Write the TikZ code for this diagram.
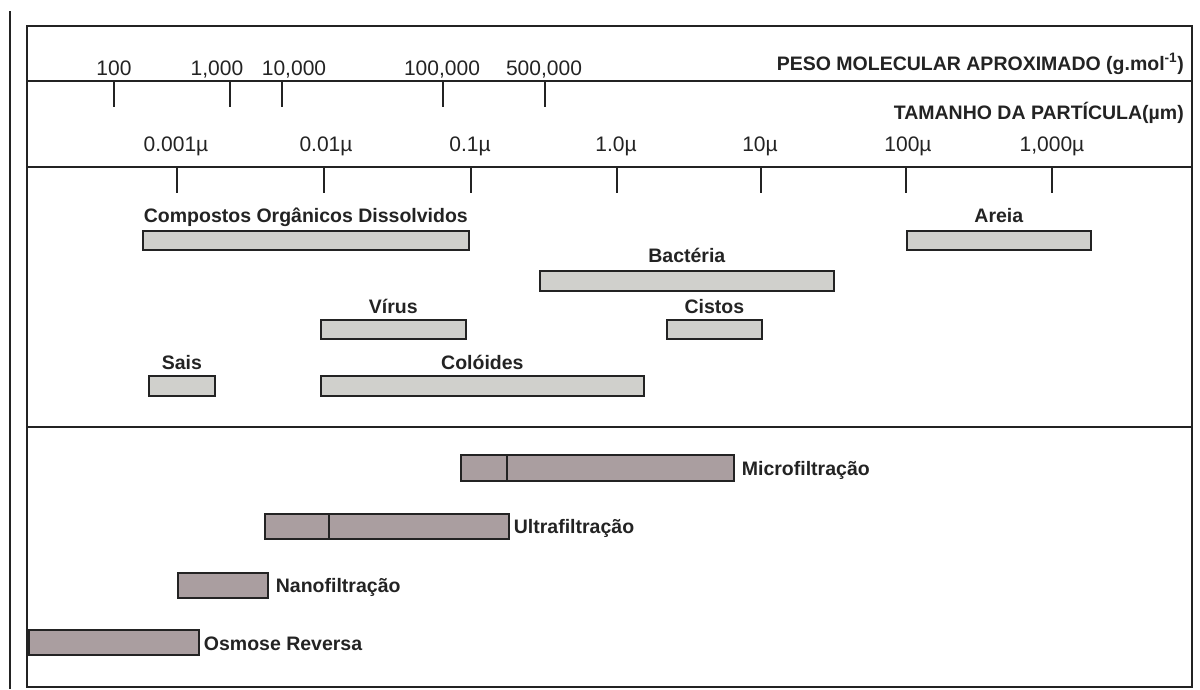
\documentclass[tikz,border=0pt]{standalone}
\usepackage{fontspec}
\setmainfont{Liberation Sans}
\definecolor{topfill}{RGB}{208,208,204}
\definecolor{botfill}{RGB}{170,158,160}
\definecolor{ink}{RGB}{35,35,35}
\tikzset{
  frameline/.style={line width=2pt, draw=ink},
  tickline/.style={line width=2pt, draw=ink},
  numlbl/.style={inner sep=0pt, font=\fontsize{21}{24}\selectfont, text=ink},
  hdrlbl/.style={inner sep=0pt, font=\fontsize{19.5}{22}\selectfont\bfseries, text=ink},
  barlbl/.style={inner sep=0pt, font=\fontsize{19.5}{22}\selectfont\bfseries, text=ink},
  topbar/.style={draw=ink, line width=1.7pt, fill=topfill, inner sep=0pt, anchor=north west},
  botbar/.style={draw=ink, line width=1.7pt, fill=botfill, inner sep=0pt, anchor=north west},
  divider/.style={draw=ink, line width=1.7pt}
}
\begin{document}
\begin{tikzpicture}[x=1pt,y=-1pt]
\useasboundingbox (0,0) rectangle (1200,689);
\fill[white] (0,0) rectangle (1200,689);
% outer left rule and frame
\coordinate (lt) at (9.5,11);
\coordinate (lb) at (9.5,689);
\draw[frameline] (lt) -- (lb);
\node[frameline, inner sep=0pt, anchor=north west, minimum width=1165pt, minimum height=661pt] (frame) at (26,25) {};
\coordinate (r1w) at (26,81);   \coordinate (r1e) at (1191,81);
\coordinate (r2w) at (26,167);  \coordinate (r2e) at (1191,167);
\coordinate (r3w) at (26,427);  \coordinate (r3e) at (1191,427);
\draw[frameline] (r1w) -- (r1e);
\draw[frameline] (r2w) -- (r2e);
\draw[frameline] (r3w) -- (r3e);
% header titles
\node[hdrlbl, anchor=base east] (peso) at (1184,70) {PESO MOLECULAR APROXIMADO (g.mol\textsuperscript{-1})};
\node[hdrlbl, anchor=base east] (tam) at (1184,119) {TAMANHO DA PARTÍCULA(µm)};
% molecular weight ticks and labels
\foreach \n/\x/\lx/\t in {a/114/114/100, b/230/217/{1,000}, c/282/294/{10,000}, d/443/442/{100,000}, e/545/544/{500,000}}{
  \coordinate (mw\n t) at (\x,81);
  \coordinate (mw\n b) at (\x,107);
  \draw[tickline] (mw\n t) -- (mw\n b);
  \node[numlbl, anchor=base] (mw\n) at (\lx,75) {\t};
}
% particle size ticks and labels
\foreach \n/\x/\lx/\t in {a/177/176/0.001µ, b/324/326/0.01µ, c/471/470/0.1µ, d/617/616/1.0µ, e/761/760/10µ, f/906/908/100µ, g/1052/1052/{1,000µ}}{
  \coordinate (ps\n t) at (\x,167);
  \coordinate (ps\n b) at (\x,193);
  \draw[tickline] (ps\n t) -- (ps\n b);
  \node[numlbl, anchor=base] (ps\n) at (\lx,151) {\t};
}
% particle bars
\node[topbar, minimum width=326pt, minimum height=19pt] (cod) at (142,230) {};
\node[topbar, minimum width=184pt, minimum height=19pt] (areia) at (906,230) {};
\node[topbar, minimum width=294pt, minimum height=20pt] (bact) at (539,270) {};
\node[topbar, minimum width=145pt, minimum height=19pt] (virus) at (320,319) {};
\node[topbar, minimum width=95pt, minimum height=19pt] (cist) at (666,319) {};
\node[topbar, minimum width=66pt, minimum height=20pt] (sais) at (148,375) {};
\node[topbar, minimum width=323pt, minimum height=20pt] (col) at (320,375) {};
\node[barlbl, anchor=base] (codl) at ([yshift=8pt]cod.north) {Compostos Orgânicos Dissolvidos};
\node[barlbl, anchor=base] (areial) at ([yshift=8pt]areia.north) {Areia};
\node[barlbl, anchor=base] (bactl) at ([yshift=8pt]bact.north) {Bactéria};
\node[barlbl, anchor=base] (virusl) at ([yshift=6pt]virus.north) {Vírus};
\node[barlbl, anchor=base] (cistl) at ([yshift=6pt]cist.north) {Cistos};
\node[barlbl, anchor=base] (saisl) at ([yshift=6pt]sais.north) {Sais};
\node[barlbl, anchor=base] (coll) at ([yshift=6pt]col.north) {Colóides};
% process bars
\node[botbar, minimum width=273pt, minimum height=26pt] (micro) at (460,454) {};
\node[botbar, minimum width=244pt, minimum height=25pt] (ultra) at (264,513) {};
\node[botbar, minimum width=90pt, minimum height=25pt] (nano) at (177,572) {};
\node[botbar, minimum width=170pt, minimum height=25pt] (osm) at (28,629) {};
\draw[divider] ([xshift=47pt]micro.north west) -- ([xshift=47pt]micro.south west);
\draw[divider] ([xshift=65pt]ultra.north west) -- ([xshift=65pt]ultra.south west);
\node[barlbl, anchor=base west] (microl) at ([xshift=7pt,yshift=-7.5pt]micro.east) {Microfiltração};
\node[barlbl, anchor=base west] (ultral) at ([xshift=4pt,yshift=-7.5pt]ultra.east) {Ultrafiltração};
\node[barlbl, anchor=base west] (nanol) at ([xshift=7pt,yshift=-7.5pt]nano.east) {Nanofiltração};
\node[barlbl, anchor=base west] (osml) at ([xshift=4pt,yshift=-8pt]osm.east) {Osmose Reversa};
\end{tikzpicture}
\end{document}
